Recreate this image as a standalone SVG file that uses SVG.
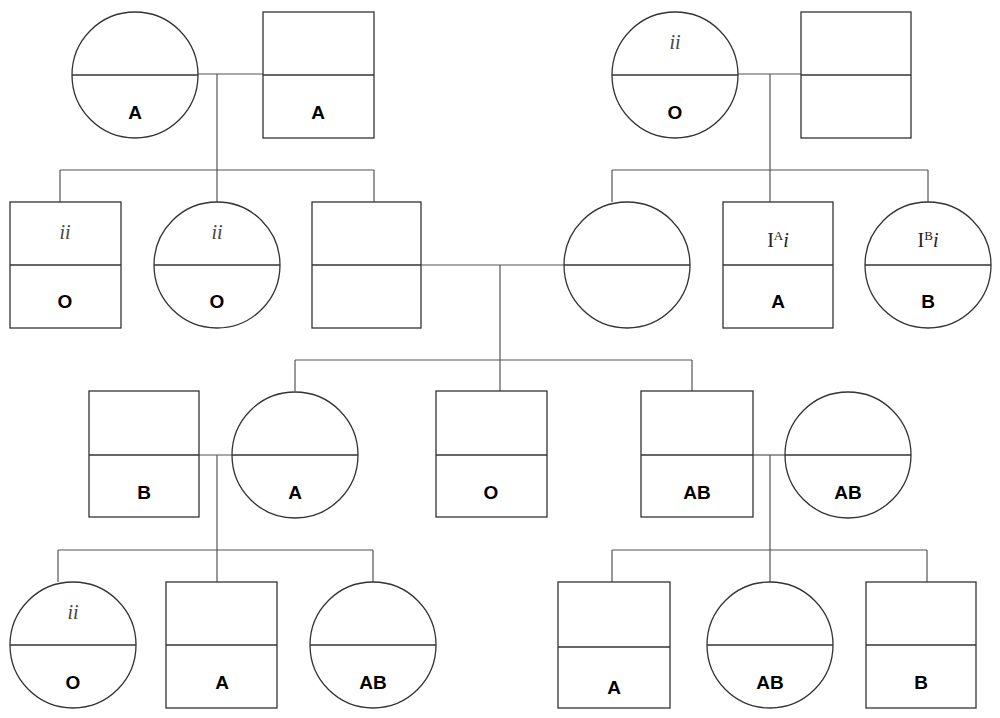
<svg xmlns="http://www.w3.org/2000/svg" width="1000" height="718" viewBox="0 0 1000 718">
<style>
.s{fill:#fff;stroke:#333;stroke-width:1.3}
.d{stroke:#333;stroke-width:1.3}
.c line{stroke:#555;stroke-width:1.2}
.g{stroke:#222;stroke-width:1.6}
.b{font-family:"Liberation Sans",Arial,sans-serif;font-weight:bold;font-size:19px;text-anchor:middle;fill:#000}
.i{font-family:"Liberation Serif","Times New Roman",serif;font-style:italic;font-size:20px;text-anchor:middle;fill:#444}
.r{font-family:"Liberation Serif","Times New Roman",serif;font-size:20px;text-anchor:middle;fill:#222}
</style>
<rect width="1000" height="718" fill="#fff"/>
<g class="c">
<line x1="198" y1="74" x2="263" y2="74" class="g"/><line x1="217" y1="74" x2="217" y2="202"/>
<line x1="60" y1="170" x2="374" y2="170"/><line x1="60" y1="170" x2="60" y2="202"/><line x1="374" y1="170" x2="374" y2="202"/>
<line x1="738" y1="74" x2="801" y2="74" class="g"/><line x1="770" y1="74" x2="770" y2="202"/>
<line x1="612" y1="170" x2="928" y2="170"/><line x1="612" y1="170" x2="612" y2="202"/><line x1="928" y1="170" x2="928" y2="202"/>
<line x1="421" y1="265" x2="564" y2="265"/><line x1="500" y1="265" x2="500" y2="391"/>
<line x1="295" y1="360" x2="692" y2="360"/><line x1="295" y1="360" x2="295" y2="391"/><line x1="692" y1="360" x2="692" y2="391"/>
<line x1="199" y1="455" x2="232" y2="455"/><line x1="217" y1="455" x2="217" y2="582"/>
<line x1="58" y1="550" x2="373" y2="550"/><line x1="58" y1="550" x2="58" y2="582"/><line x1="373" y1="550" x2="373" y2="582"/>
<line x1="753" y1="455" x2="785" y2="455"/><line x1="770" y1="455" x2="770" y2="582"/>
<line x1="612" y1="550" x2="927" y2="550"/><line x1="612" y1="550" x2="612" y2="582"/><line x1="927" y1="550" x2="927" y2="582"/>
</g>
<g id="n1"><circle class="s" cx="135" cy="75" r="63"/><line class="d" x1="72" y1="75" x2="198" y2="75"/><text class="b" x="135" y="119">A</text></g>
<g id="n2"><rect class="s" x="263" y="12" width="111" height="126"/><line class="d" x1="263" y1="75" x2="374" y2="75"/><text class="b" x="318" y="119">A</text></g>
<g id="n3"><circle class="s" cx="675" cy="75" r="63"/><line class="d" x1="612" y1="75" x2="738" y2="75"/><text class="i" x="675" y="49">ii</text><text class="b" x="675" y="119">O</text></g>
<g id="n4"><rect class="s" x="801" y="12" width="110" height="126"/><line class="d" x1="801" y1="75" x2="911" y2="75"/></g>
<g id="n5"><rect class="s" x="10" y="202" width="111" height="126"/><line class="d" x1="10" y1="265" x2="121" y2="265"/><text class="i" x="65" y="239">ii</text><text class="b" x="65" y="308">O</text></g>
<g id="n6"><circle class="s" cx="217" cy="265" r="63"/><line class="d" x1="154" y1="265" x2="280" y2="265"/><text class="i" x="217" y="239">ii</text><text class="b" x="217" y="308">O</text></g>
<g id="n7"><rect class="s" x="312" y="202" width="109" height="126"/><line class="d" x1="312" y1="265" x2="421" y2="265"/></g>
<g id="n8"><circle class="s" cx="627" cy="265" r="63"/><line class="d" x1="564" y1="265" x2="690" y2="265"/></g>
<g id="n9"><rect class="s" x="723" y="202" width="110" height="126"/><line class="d" x1="723" y1="265" x2="833" y2="265"/><text class="r" x="778" y="247">I<tspan font-size="13" dy="-7">A</tspan><tspan font-style="italic" dy="7">i</tspan></text><text class="b" x="778" y="308">A</text></g>
<g id="n10"><circle class="s" cx="928" cy="265" r="63"/><line class="d" x1="865" y1="265" x2="991" y2="265"/><text class="r" x="928" y="247">I<tspan font-size="13" dy="-7">B</tspan><tspan font-style="italic" dy="7">i</tspan></text><text class="b" x="928" y="308">B</text></g>
<g id="n11"><rect class="s" x="89" y="391" width="110" height="126"/><line class="d" x1="89" y1="455" x2="199" y2="455"/><text class="b" x="144" y="499">B</text></g>
<g id="n12"><circle class="s" cx="295" cy="455" r="63"/><line class="d" x1="232" y1="455" x2="358" y2="455"/><text class="b" x="295" y="499">A</text></g>
<g id="n13"><rect class="s" x="436" y="391" width="111" height="126"/><line class="d" x1="436" y1="455" x2="547" y2="455"/><text class="b" x="491" y="499">O</text></g>
<g id="n14"><rect class="s" x="641" y="391" width="112" height="126"/><line class="d" x1="641" y1="455" x2="753" y2="455"/><text class="b" x="697" y="499">AB</text></g>
<g id="n15"><circle class="s" cx="848" cy="455" r="63"/><line class="d" x1="785" y1="455" x2="911" y2="455"/><text class="b" x="848" y="499">AB</text></g>
<g id="n16"><circle class="s" cx="73" cy="645" r="63"/><line class="d" x1="10" y1="645" x2="136" y2="645"/><text class="i" x="73" y="619">ii</text><text class="b" x="73" y="689">O</text></g>
<g id="n17"><rect class="s" x="166" y="582" width="111" height="126"/><line class="d" x1="166" y1="645" x2="277" y2="645"/><text class="b" x="222" y="689">A</text></g>
<g id="n18"><circle class="s" cx="373" cy="645" r="63"/><line class="d" x1="310" y1="645" x2="436" y2="645"/><text class="b" x="373" y="689">AB</text></g>
<g id="n19"><rect class="s" x="558" y="582" width="112" height="126"/><line class="d" x1="558" y1="647" x2="670" y2="647"/><text class="b" x="614" y="694">A</text></g>
<g id="n20"><circle class="s" cx="770" cy="645" r="63"/><line class="d" x1="707" y1="645" x2="833" y2="645"/><text class="b" x="770" y="689">AB</text></g>
<g id="n21"><rect class="s" x="866" y="582" width="110" height="126"/><line class="d" x1="866" y1="645" x2="976" y2="645"/><text class="b" x="921" y="689">B</text></g>
</svg>
